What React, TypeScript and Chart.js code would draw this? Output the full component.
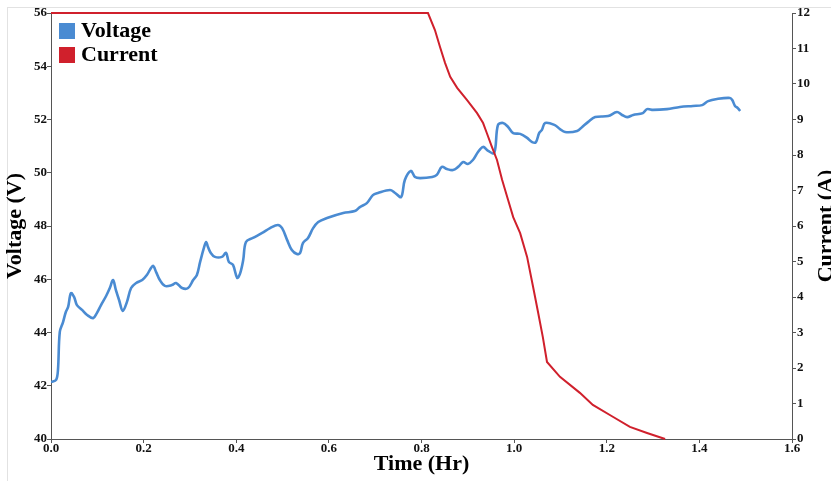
import React, { useEffect, useRef } from "react";
import { Chart, registerables } from "chart.js";

Chart.register(...registerables);

const timeV = [0, 0.011, 0.015, 0.019, 0.026, 0.032, 0.037, 0.043, 0.05, 0.056, 0.067, 0.078, 0.091, 0.099, 0.108, 0.119, 0.127, 0.134, 0.14, 0.147, 0.155, 0.164, 0.173, 0.184, 0.197, 0.207, 0.22, 0.227, 0.235, 0.246, 0.261, 0.27, 0.283, 0.296, 0.307, 0.315, 0.322, 0.33, 0.335, 0.339, 0.345, 0.354, 0.369, 0.378, 0.384, 0.393, 0.402, 0.408, 0.415, 0.421, 0.436, 0.456, 0.473, 0.49, 0.499, 0.51, 0.52, 0.531, 0.538, 0.544, 0.555, 0.566, 0.577, 0.596, 0.631, 0.656, 0.667, 0.682, 0.695, 0.706, 0.732, 0.743, 0.756, 0.764, 0.777, 0.786, 0.797, 0.823, 0.833, 0.844, 0.855, 0.868, 0.879, 0.89, 0.9, 0.911, 0.922, 0.933, 0.944, 0.957, 0.965, 0.976, 0.987, 0.998, 1.013, 1.028, 1.039, 1.047, 1.054, 1.06, 1.067, 1.088, 1.099, 1.11, 1.136, 1.147, 1.16, 1.175, 1.203, 1.222, 1.233, 1.244, 1.257, 1.278, 1.287, 1.3, 1.33, 1.358, 1.386, 1.406, 1.419, 1.438, 1.466, 1.471, 1.477, 1.483, 1.488];
const voltage = [42.14, 42.22, 42.59, 44.02, 44.39, 44.77, 44.96, 45.48, 45.33, 45.03, 44.85, 44.66, 44.54, 44.73, 45.03, 45.37, 45.67, 45.97, 45.6, 45.22, 44.81, 45.15, 45.67, 45.86, 45.97, 46.16, 46.5, 46.27, 45.97, 45.75, 45.78, 45.86, 45.67, 45.67, 45.97, 46.16, 46.65, 47.17, 47.4, 47.21, 46.99, 46.84, 46.84, 46.99, 46.65, 46.54, 46.05, 46.2, 46.72, 47.4, 47.55, 47.74, 47.92, 48.04, 47.92, 47.47, 47.1, 46.95, 46.99, 47.36, 47.55, 47.92, 48.15, 48.3, 48.49, 48.56, 48.71, 48.86, 49.16, 49.24, 49.35, 49.24, 49.09, 49.73, 50.07, 49.84, 49.8, 49.84, 49.92, 50.22, 50.14, 50.1, 50.22, 50.4, 50.33, 50.48, 50.78, 50.97, 50.82, 50.74, 51.79, 51.87, 51.72, 51.49, 51.46, 51.31, 51.15, 51.15, 51.49, 51.61, 51.87, 51.79, 51.64, 51.53, 51.57, 51.72, 51.91, 52.09, 52.13, 52.28, 52.17, 52.09, 52.17, 52.24, 52.39, 52.36, 52.39, 52.47, 52.51, 52.54, 52.69, 52.77, 52.81, 52.73, 52.51, 52.43, 52.32];

const timeI = [0, 0.814, 0.829, 0.84, 0.851, 0.862, 0.877, 0.898, 0.92, 0.933, 0.941, 0.952, 0.963, 0.974, 0.987, 0.998, 1.013, 1.028, 1.041, 1.052, 1.062, 1.071, 1.099, 1.142, 1.17, 1.214, 1.25, 1.287, 1.326];
const current = [12, 12, 11.52, 11.04, 10.59, 10.2, 9.89, 9.55, 9.18, 8.9, 8.62, 8.23, 7.86, 7.3, 6.73, 6.25, 5.8, 5.13, 4.28, 3.55, 2.87, 2.17, 1.75, 1.3, 0.96, 0.62, 0.34, 0.17, 0];

const xTicks = [0, 0.2, 0.4, 0.6, 0.8, 1.0, 1.2, 1.4, 1.6];
const labels = ["Voltage", "Current"];
const xTitle = "Time (Hr)";
const yTitle = "Voltage (V)";
const y1Title = "Current (A)";

const BLUE = "#4a8bd2";
const RED = "#d0202c";
const AXIS = "#555555";
const SERIF = "'Liberation Serif', 'Times New Roman', serif";

const overlayPlugin = {
  id: "overlay",
  afterDraw(chart: any) {
    const { ctx, chartArea } = chart;
    ctx.save();
    // legend
    ctx.font = `bold 22px ${SERIF}`;
    ctx.textBaseline = "middle";
    ctx.textAlign = "left";
    chart.data.datasets.forEach((ds: any, i: number) => {
      const bx = chartArea.left + 8;
      const by = chartArea.top + 10 + i * 24;
      ctx.fillStyle = ds.borderColor;
      ctx.fillRect(bx, by, 16, 16);
      ctx.fillStyle = "#000";
      ctx.fillText(ds.label, bx + 22, by + 8);
    });
    // right axis title (reads bottom to top)
    ctx.translate(826, (chartArea.top + chartArea.bottom) / 2);
    ctx.rotate(-Math.PI / 2);
    ctx.textAlign = "center";
    ctx.fillText(y1Title, 0, 0);
    ctx.restore();
  },
};

export default function App() {
  const ref = useRef<HTMLCanvasElement>(null);
  useEffect(() => {
    if (!ref.current) return;
    const tickFont = { family: SERIF, size: 13, weight: "bold" as const };
    const chart = new Chart(ref.current, {
      type: "line",
      data: {
        datasets: [
          {
            label: labels[0],
            data: timeV.map((t, i) => ({ x: t, y: voltage[i] })),
            borderColor: BLUE,
            backgroundColor: BLUE,
            borderWidth: 2.6,
            pointRadius: 0,
            tension: 0.35,
            yAxisID: "y",
            order: 2,
          },
          {
            label: labels[1],
            data: timeI.map((t, i) => ({ x: t, y: current[i] })),
            borderColor: RED,
            backgroundColor: RED,
            borderWidth: 2,
            pointRadius: 0,
            tension: 0,
            yAxisID: "y1",
            order: 1,
            clip: false,
          } as any,
        ],
      },
      plugins: [overlayPlugin],
      options: {
        animation: false,
        responsive: false,
        layout: { padding: { top: 13, left: 0, right: 0, bottom: 0 } },
        plugins: { legend: { display: false }, tooltip: { enabled: false } },
        scales: {
          x: {
            type: "linear",
            min: 0,
            max: 1.6,
            afterBuildTicks: (s: any) => {
              s.ticks = xTicks.map((v) => ({ value: v }));
            },
            afterFit: (s: any) => {
              s.height = 42;
            },
            ticks: {
              font: tickFont,
              color: "#111",
              padding: -2,
              maxRotation: 0,
              callback: (v: any) => Number(v).toFixed(1),
            },
            grid: { drawOnChartArea: false, drawTicks: true, tickLength: 4, color: AXIS },
            border: { display: true, color: AXIS, width: 1 },
            title: {
              display: true,
              text: xTitle,
              font: { family: SERIF, size: 22, weight: "bold" },
              color: "#000",
              padding: { top: 0, bottom: 3 },
            },
          },
          y: {
            type: "linear",
            position: "left",
            min: 40,
            max: 56,
            afterFit: (s: any) => {
              s.width = 51;
            },
            ticks: { stepSize: 2, font: tickFont, color: "#111", padding: 0 },
            grid: { drawOnChartArea: false, drawTicks: true, tickLength: 4, color: AXIS },
            border: { display: true, color: AXIS, width: 1 },
            title: {
              display: true,
              text: yTitle,
              font: { family: SERIF, size: 22, weight: "bold" },
              color: "#000",
              padding: { top: 2, bottom: 0 },
            },
          },
          y1: {
            type: "linear",
            position: "right",
            min: 0,
            max: 12,
            afterFit: (s: any) => {
              s.width = 39;
            },
            ticks: { stepSize: 1, font: tickFont, color: "#111", padding: 1 },
            grid: { drawOnChartArea: false, drawTicks: true, tickLength: 4, color: AXIS },
            border: { display: true, color: AXIS, width: 1 },
          },
        },
      },
    });
    return () => chart.destroy();
  }, []);

  return (
    <div style={{ position: "fixed", left: 0, top: 0, width: 831, height: 481, background: "#fff" }}>
      <div
        style={{
          position: "absolute",
          left: 7,
          top: 7,
          right: 0,
          bottom: 0,
          borderLeft: "1px solid #e2e2e2",
          borderTop: "1px solid #e2e2e2",
        }}
      />
      <canvas ref={ref} width={831} height={481} style={{ position: "absolute", left: 0, top: 0 }} />
    </div>
  );
}
